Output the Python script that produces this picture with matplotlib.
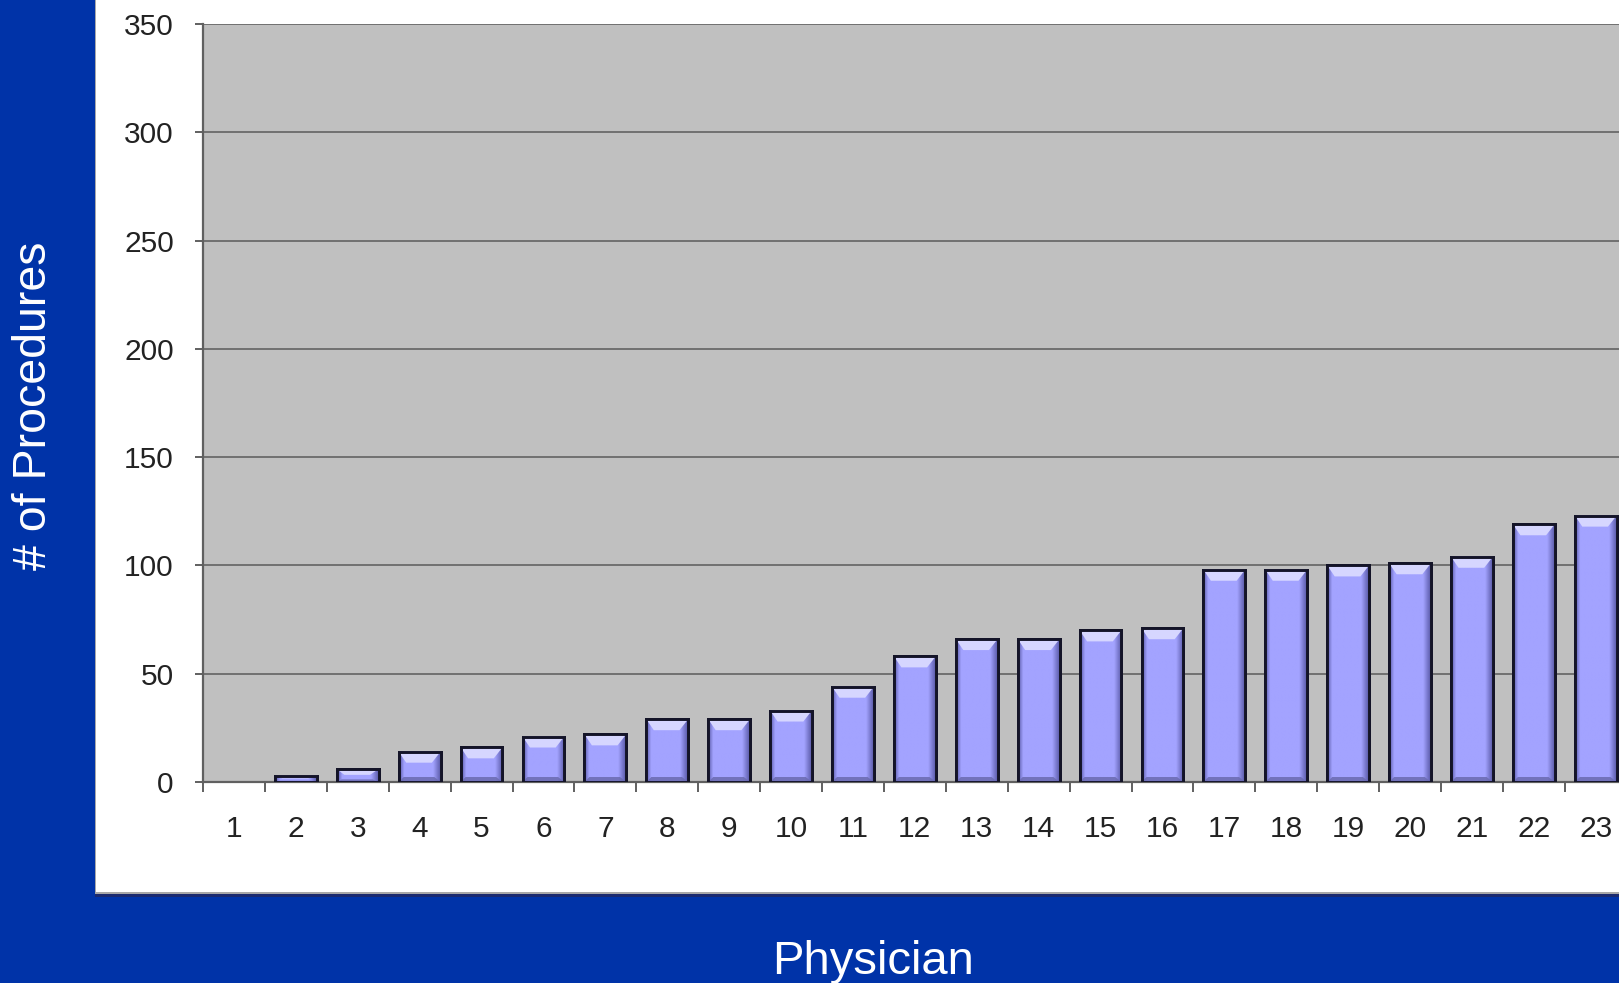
import matplotlib.pyplot as plt
import numpy as np
from matplotlib.patches import Rectangle, Polygon
from matplotlib.colors import to_rgb

plt.rcParams['font.family'] = ['Liberation Sans', 'DejaVu Sans']

# data
physicians = list(range(1, 24))
procedures = [0, 3, 6, 14, 16, 21, 22, 29, 29, 33, 44, 58, 66, 66, 70, 71,
              98, 98, 100, 101, 104, 119, 123]
y_ticks = [0, 50, 100, 150, 200, 250, 300, 350]

W, H = 1619, 983
fig = plt.figure(figsize=(W / 100, H / 100), dpi=100)
fig.patch.set_facecolor('#0033A8')

# white chart panel with a dark shadow at the bottom (behind the axes)
fig.patches.append(Rectangle((95 / W, 1 - 897 / H), 1, 897 / H + 0.01,
                             transform=fig.transFigure, facecolor='#1a2a70',
                             edgecolor='none', zorder=-3))
fig.patches.append(Rectangle((95 / W, 1 - 894 / H), 1, 894 / H + 0.01,
                             transform=fig.transFigure, facecolor='#a8a8a8',
                             edgecolor='none', zorder=-2))
fig.patches.append(Rectangle((96 / W, 1 - 892 / H), 1, 892 / H + 0.01,
                             transform=fig.transFigure, facecolor='white',
                             edgecolor='none', zorder=-1))

n_slots = 24
slot_px = 61.9
left, bottom, top = 203 / W, 1 - 782 / H, 1 - 24 / H
ax = fig.add_axes([left, bottom, n_slots * slot_px / W, top - bottom])
ax.set_facecolor('#C0C0C0')

# physician 1 has no procedures, so no bar is drawn for it
xs_bar = [p for p, v in zip(physicians, procedures) if v > 0]
hs_bar = [v for v in procedures if v > 0]

bar_w = 0.675
ax.bar(xs_bar, hs_bar, width=bar_w, color='#A3A3FF',
       edgecolor='#141428', linewidth=2.1, zorder=3)

# shading on each bar: darker sides, light bevel at the top
base = np.array(to_rgb('#A3A3FF'))
dark = np.array(to_rgb('#5a5aa8'))
xs = np.linspace(0, 1, 60)
prof = np.clip(np.minimum(xs / 0.12, (1 - xs) / 0.18), 0, 1)
grad = dark[None, :] + (base - dark)[None, :] * prof[:, None]
px_per_unit = 758 / 350
bevel = 11 / px_per_unit
for x, h in zip(xs_bar, hs_bar):
    x0, x1 = x - bar_w / 2, x + bar_w / 2
    ax.imshow(grad[None, :, :], extent=(x0, x1, 0, h), aspect='auto',
              zorder=3.1, interpolation='bilinear')
    b = min(bevel, h * 0.45)
    ax.add_patch(Polygon([(x0, h), (x1, h), (x1 - 0.14, h - b), (x0 + 0.12, h - b)],
                         closed=True, facecolor='#d6d6ff', edgecolor='none', zorder=3.2))
    bb = min(5 / px_per_unit, h * 0.2)
    ax.add_patch(Polygon([(x0, 0), (x1, 0), (x1 - 0.1, bb), (x0 + 0.08, bb)],
                         closed=True, facecolor='#6a6ab0', edgecolor='none',
                         zorder=3.2, alpha=0.85))
    ax.add_patch(Rectangle((x0, 0), bar_w, h, facecolor='none',
                           edgecolor='#141428', linewidth=2.1, zorder=3.3))

ax.set_xlim(0.5, n_slots + 0.5)
ax.set_ylim(0, 350)

ax.set_yticks(y_ticks)
ax.yaxis.grid(True, color='#707070', linewidth=1.4, zorder=1)
ax.set_axisbelow(True)
ax.tick_params(axis='y', direction='out', length=6, width=1.4, color='#606060',
               labelsize=21.5, pad=15, labelcolor='#222222')

ax.set_xticks(np.arange(0.5, n_slots + 1, 1))
ax.set_xticklabels([])
ax.set_xticks(physicians, minor=True)
ax.set_xticklabels([str(p) for p in physicians], minor=True)
ax.tick_params(axis='x', which='major', direction='out', length=7, width=1.4,
               color='#606060')
ax.tick_params(axis='x', which='minor', length=0, labelsize=21.5, pad=24,
               labelcolor='#222222')

for s in ['top', 'right']:
    ax.spines[s].set_visible(False)
for s in ['left', 'bottom']:
    ax.spines[s].set_color('#606060')
    ax.spines[s].set_linewidth(1.6)

fig.text(34 / W, 1 - 406 / H, '# of Procedures', color='white', fontsize=33.5,
         rotation=90, ha='center', va='center')
fig.text(873 / W, 1 - 962 / H, 'Physician', color='white', fontsize=34,
         ha='center', va='center')

fig.savefig('out.png', dpi=100, facecolor=fig.get_facecolor())
